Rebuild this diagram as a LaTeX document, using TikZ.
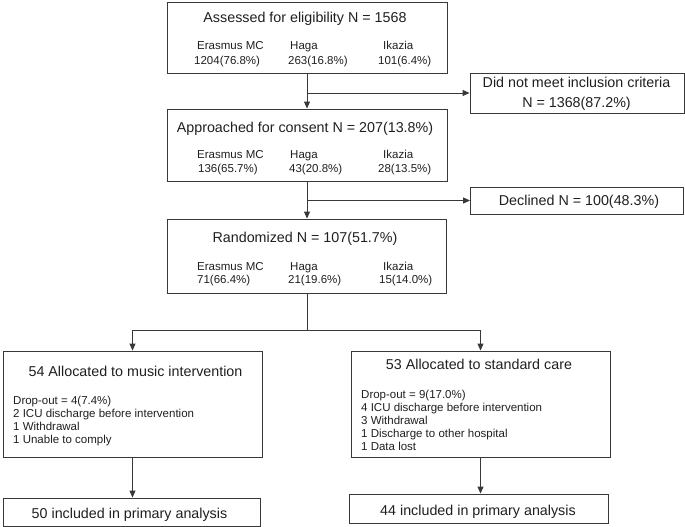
\documentclass[tikz,border=0pt]{standalone}
\usepackage{fontspec}
\setmainfont{Liberation Sans}
\usetikzlibrary{arrows.meta}
\begin{document}
\begin{tikzpicture}[x=1pt,y=-1pt,
  box/.style={draw=black!78,line width=0.9pt,rectangle,inner sep=0pt},
  arr/.style={draw=black!78,line width=0.9pt,-{Triangle[length=7pt,width=6pt]}},
  ln/.style={draw=black!78,line width=0.9pt},
  big/.style={inner sep=0pt,anchor=base,text=black!88,font=\fontsize{14.3}{17}\selectfont},
  sm/.style={inner sep=0pt,anchor=base west,text=black!88,font=\fontsize{11.5}{13}\selectfont},
  smc/.style={inner sep=0pt,anchor=base,text=black!88,font=\fontsize{11.5}{13}\selectfont}]
\useasboundingbox (0,0) rectangle (685,527);
% boxes
\node[box,minimum width=280pt,minimum height=71pt] (b1) at (307,37.5) {};
\node[box,minimum width=214pt,minimum height=40pt] (excl) at (577,93) {};
\node[box,minimum width=280pt,minimum height=72pt] (b2) at (307,145) {};
\node[box,minimum width=213pt,minimum height=27pt] (decl) at (577,200.5) {};
\node[box,minimum width=279pt,minimum height=74pt] (b3) at (307,256) {};
\node[box,minimum width=259pt,minimum height=106pt] (allocL) at (132.5,404) {};
\node[box,minimum width=259pt,minimum height=106pt] (allocR) at (480.5,404) {};
\node[box,minimum width=257pt,minimum height=28pt] (inclL) at (131.5,512) {};
\node[box,minimum width=259pt,minimum height=29pt] (inclR) at (478.5,508.5) {};
% texts box1
\node[big] (t1) at (305,23) {Assessed for eligibility N = 1568};
\node[sm] (t1a) at (197,50) {Erasmus MC};
\node[sm] (t1b) at (194,64) {1204(76.8\%)};
\node[sm] (t1c) at (290,50) {Haga};
\node[sm] (t1d) at (288,64) {263(16.8\%)};
\node[sm] (t1e) at (383,50) {Ikazia};
\node[sm] (t1f) at (378,64) {101(6.4\%)};
% excl
\node[big] (te1) at (576.5,88) {Did not meet inclusion criteria};
\node[big] (te2) at (576.5,107) {N = 1368(87.2\%)};
% box2
\node[big] (t2) at (305,132) {Approached for consent N = 207(13.8\%)};
\node[sm] (t2a) at (197,158) {Erasmus MC};
\node[sm] (t2b) at (198,172) {136(65.7\%)};
\node[sm] (t2c) at (290,158) {Haga};
\node[sm] (t2d) at (289,172) {43(20.8\%)};
\node[sm] (t2e) at (383,158) {Ikazia};
\node[sm] (t2f) at (378,172) {28(13.5\%)};
% declined
\node[big] (td) at (579,205.5) {Declined N = 100(48.3\%)};
% box3
\node[big] (t3) at (305,242) {Randomized N = 107(51.7\%)};
\node[sm] (t3a) at (197,270) {Erasmus MC};
\node[sm] (t3b) at (197,283) {71(66.4\%)};
\node[sm] (t3c) at (290,270) {Haga};
\node[sm] (t3d) at (288,283) {21(19.6\%)};
\node[sm] (t3e) at (383,270) {Ikazia};
\node[sm] (t3f) at (379,283) {15(14.0\%)};
% alloc left
\node[big] (tl) at (135.5,376) {54 Allocated to music intervention};
\node[sm] (tl1) at (13,404) {Drop-out = 4(7.4\%)};
\node[sm] (tl2) at (13,417) {2 ICU discharge before intervention};
\node[sm] (tl3) at (13,430) {1 Withdrawal};
\node[sm] (tl4) at (13,443) {1 Unable to comply};
% alloc right
\node[big] (tr) at (479,369) {53 Allocated to standard care};
\node[sm] (tr1) at (361,398) {Drop-out = 9(17.0\%)};
\node[sm] (tr2) at (361,411) {4 ICU discharge before intervention};
\node[sm] (tr3) at (361,424) {3 Withdrawal};
\node[sm] (tr4) at (361,437) {1 Discharge to other hospital};
\node[sm] (tr5) at (361,450) {1 Data lost};
% included
\node[big] (til) at (129.5,518) {50 included in primary analysis};
\node[big] (tir) at (478,515) {44 included in primary analysis};
% connectors
\draw[arr] (b1.south) -- (b2.north);
\draw[arr] (b1.south |- excl.west) -- (excl.west);
\draw[arr] (b2.south) -- (b3.north);
\draw[arr] (b2.south |- decl.west) -- (decl.west);
\coordinate (split) at (307,330);
\draw[ln] (b3.south) -- (split);
\draw[arr] (split) -| (allocL.north);
\draw[arr] (split) -| (allocR.north);
\draw[arr] (allocL.south) -- (allocL.south |- inclL.north);
\draw[arr] (allocR.south) -- (allocR.south |- inclR.north);
\end{tikzpicture}
\end{document}
